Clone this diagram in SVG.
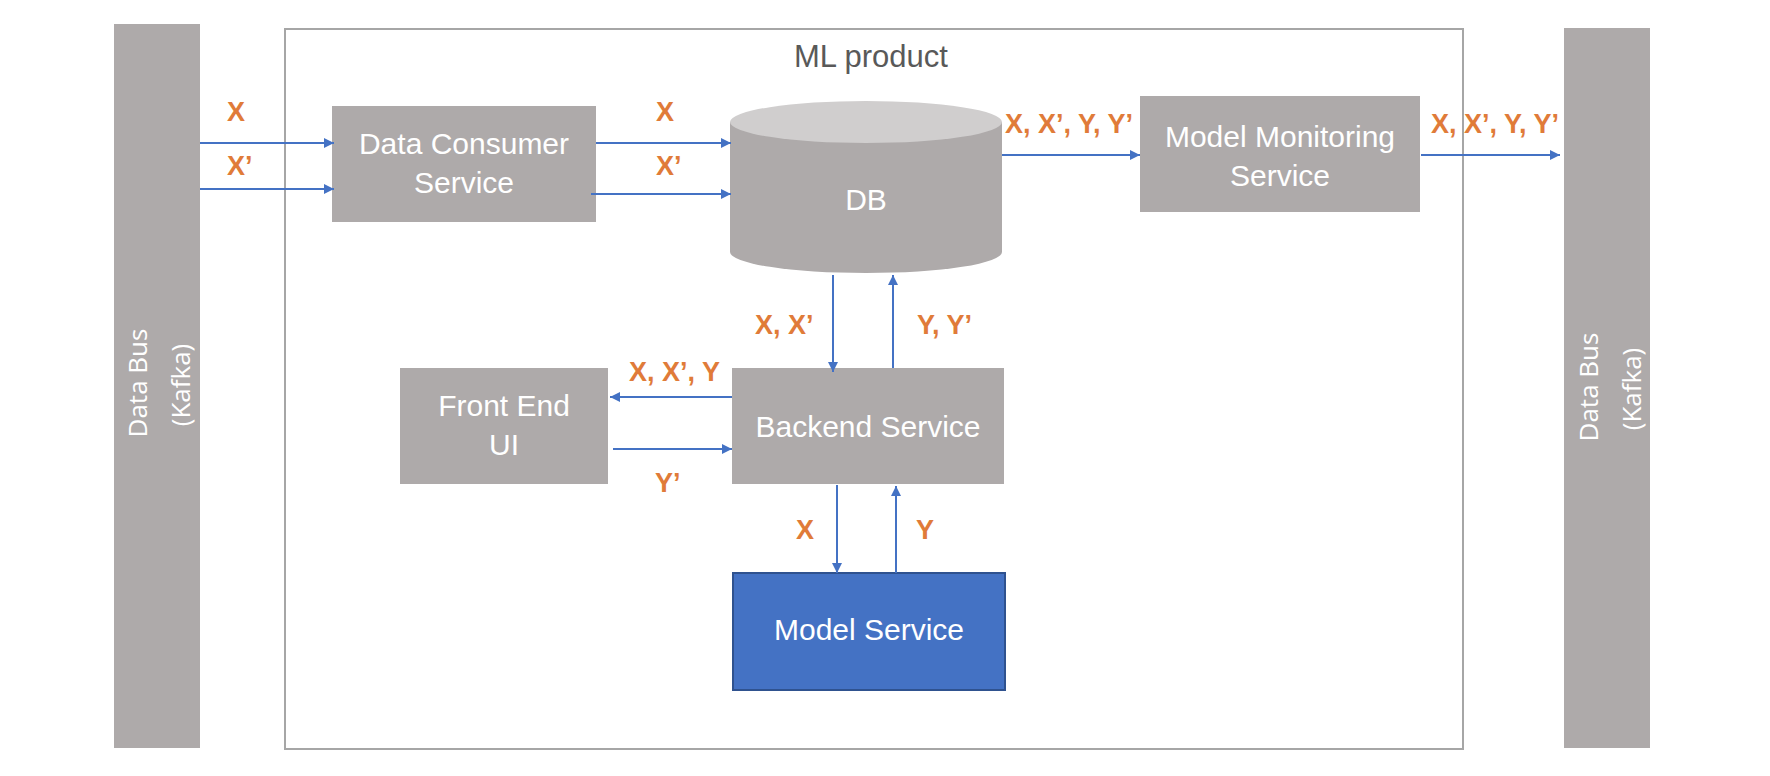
<svg xmlns="http://www.w3.org/2000/svg" width="1770" height="776" viewBox="0 0 1770 776">
<style>
.bar{fill:#AEAAAA}
.box{fill:#AEAAAA}
.nt{font-family:"Liberation Sans",Arial,sans-serif;font-size:30px;fill:#FFFFFF;text-anchor:middle}
.bt{font-family:"Open Sans","DejaVu Sans",sans-serif;font-size:26px;fill:#FFFFFF;text-anchor:middle}
.lbl{font-family:"Liberation Sans",Arial,sans-serif;font-size:27px;font-weight:bold;fill:#E07B39}
.con{stroke:#4472C4;stroke-width:2;fill:none;marker-end:url(#ah)}
</style>
<defs>
<marker id="ah" markerUnits="userSpaceOnUse" markerWidth="11" markerHeight="10" refX="10" refY="5" orient="auto">
<path d="M0,0 L10,5 L0,10 Z" fill="#4472C4"/>
</marker>
</defs>
<rect width="1770" height="776" fill="#FFFFFF"/>

<g id="ml-product">
<rect x="285" y="29" width="1178" height="720" fill="none" stroke="#A6A6A6" stroke-width="2"/>
<text x="871" y="67" font-family="Liberation Sans, Arial, sans-serif" font-size="31" fill="#595959" text-anchor="middle">ML product</text>
</g>

<g id="data-bus-left">
<rect class="bar" x="114" y="24" width="86" height="724"/>
<text class="bt" transform="translate(147,383) rotate(-90)">Data Bus</text>
<text class="bt" transform="translate(190,385) rotate(-90)">(Kafka)</text>
</g>

<g id="data-bus-right">
<rect class="bar" x="1564" y="28" width="86" height="720"/>
<text class="bt" transform="translate(1598,387) rotate(-90)">Data Bus</text>
<text class="bt" transform="translate(1641,389) rotate(-90)">(Kafka)</text>
</g>

<g id="data-consumer">
<rect class="box" x="332" y="106" width="264" height="116"/>
<text class="nt" x="464" y="154">Data Consumer</text>
<text class="nt" x="464" y="193">Service</text>
</g>

<g id="db">
<path d="M730,122 L730,252 A136,21 0 0 0 1002,252 L1002,122 Z" fill="#AEAAAA"/>
<ellipse cx="866" cy="122" rx="136" ry="21" fill="#D0CECE"/>
<text class="nt" x="866" y="210">DB</text>
</g>

<g id="model-monitoring">
<rect class="box" x="1140" y="96" width="280" height="116"/>
<text class="nt" x="1280" y="147">Model Monitoring</text>
<text class="nt" x="1280" y="186">Service</text>
</g>

<g id="backend">
<rect class="box" x="732" y="368" width="272" height="116"/>
<text class="nt" x="868" y="437">Backend Service</text>
</g>

<g id="front-end">
<rect class="box" x="400" y="368" width="208" height="116"/>
<text class="nt" x="504" y="416">Front End</text>
<text class="nt" x="504" y="455">UI</text>
</g>

<g id="model-service">
<rect x="733" y="573" width="272" height="117" fill="#4472C4" stroke="#2F528F" stroke-width="2"/>
<text class="nt" x="869" y="640">Model Service</text>
</g>

<g id="connectors">
<line class="con" x1="200" y1="143" x2="334" y2="143"/>
<line class="con" x1="200" y1="189" x2="334" y2="189"/>
<line class="con" x1="596" y1="143" x2="731" y2="143"/>
<line class="con" x1="591" y1="194" x2="731" y2="194"/>
<line class="con" x1="1002" y1="155" x2="1140" y2="155"/>
<line class="con" x1="1421" y1="155" x2="1560" y2="155"/>
<line class="con" x1="833" y1="275" x2="833" y2="372"/>
<line class="con" x1="893" y1="368" x2="893" y2="275"/>
<line class="con" x1="732" y1="397" x2="610" y2="397"/>
<line class="con" x1="613" y1="449" x2="732" y2="449"/>
<line class="con" x1="837" y1="485" x2="837" y2="573"/>
<line class="con" x1="896" y1="573" x2="896" y2="486"/>
</g>

<g id="labels">
<text class="lbl" x="227" y="121">X</text>
<text class="lbl" x="227" y="175">X’</text>
<text class="lbl" x="656" y="121">X</text>
<text class="lbl" x="656" y="175">X’</text>
<text class="lbl" x="1005" y="133">X, X’, Y, Y’</text>
<text class="lbl" x="1431" y="133">X, X’, Y, Y’</text>
<text class="lbl" x="755" y="334">X, X’</text>
<text class="lbl" x="917" y="334">Y, Y’</text>
<text class="lbl" x="629" y="381">X, X’, Y</text>
<text class="lbl" x="655" y="492">Y’</text>
<text class="lbl" x="796" y="539">X</text>
<text class="lbl" x="916" y="539">Y</text>
</g>
</svg>
